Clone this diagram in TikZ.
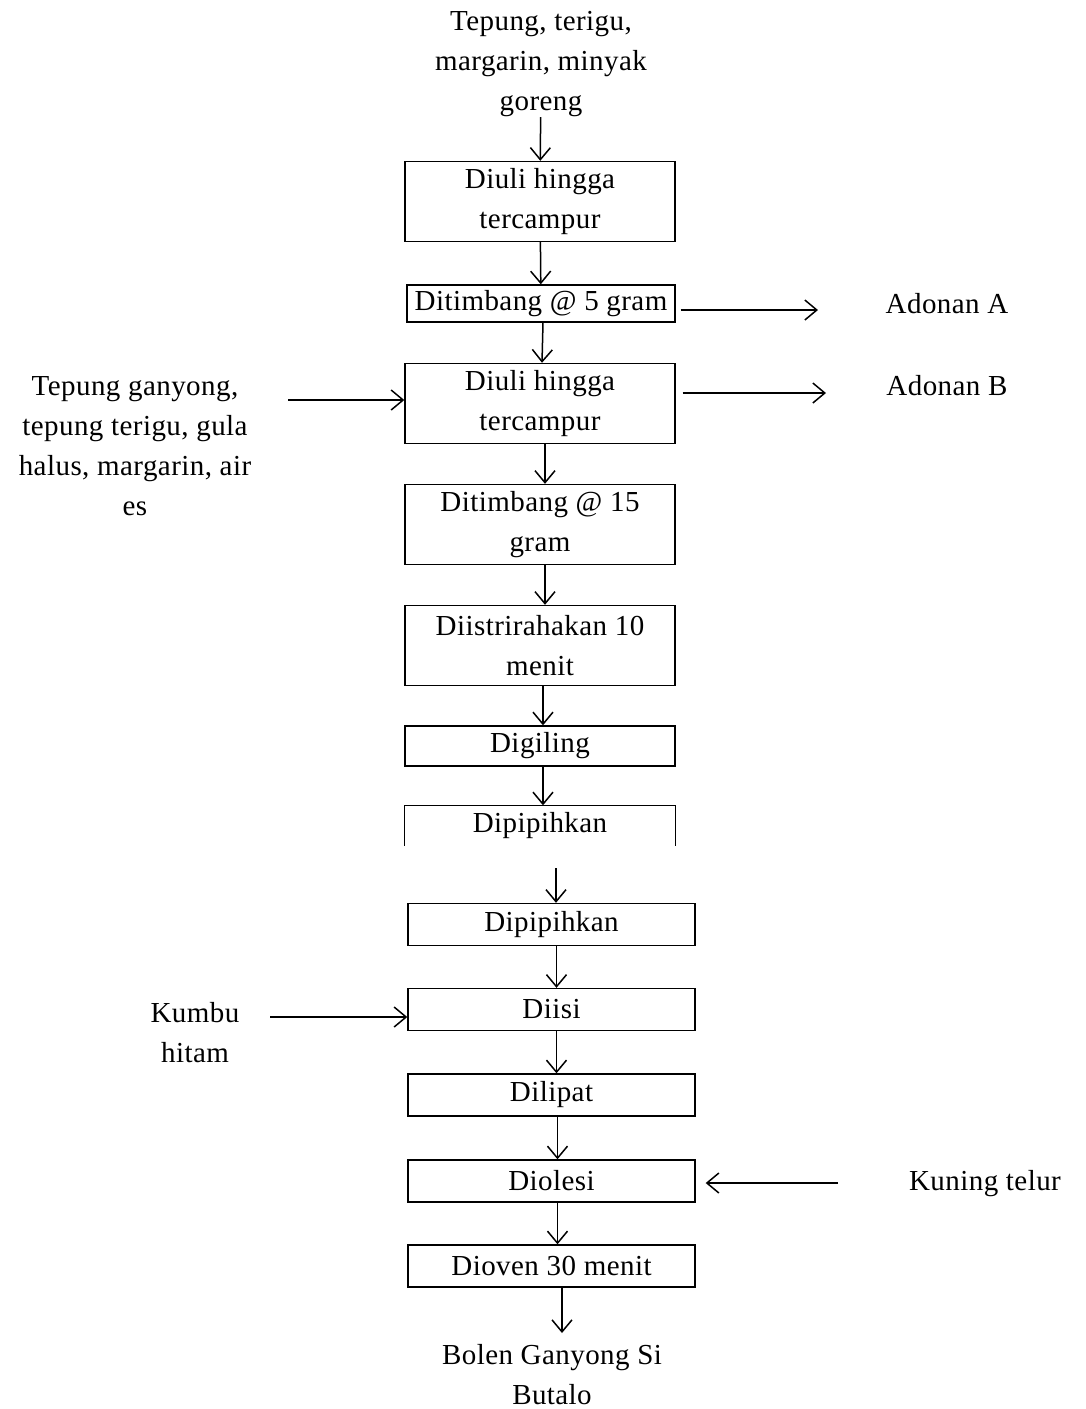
\documentclass[tikz,border=0pt]{standalone}
\usepackage{fontspec}
\setmainfont[LetterSpace=1.5]{Liberation Serif}
\usetikzlibrary{arrows.meta,positioning}
\tikzset
{
    stepbox/.style  = {rectangle, draw=black, align=center, inner sep=0pt, minimum width=135pt, minimum height=40pt, line width=0.7pt},
    stepboxb/.style = {stepbox, minimum width=143.5pt, minimum height=21pt},
    inputtext/.style = {align=center, inner sep=0pt},
    flow/.style     = {-{Straight Barb[length=6pt,width=10pt]}, line width=0.75pt}
}

\begin{document}
\begin{tikzpicture}[x=0.5pt, y=-0.5pt, every node/.style={font=\fontsize{14.5}{20}\selectfont}]
\useasboundingbox (0,0) rectangle (1086,1409);

% first page
\node (in0)[inputtext] 						at (541,64)     {Tepung, terigu,\\ margarin, minyak\\ goreng};
\node (a)[stepbox] 								at (540,201.5)  {Diuli hingga\\ tercampur};
\node (b)[stepbox, minimum width=134pt, minimum height=18.5pt] at (541,303.5) {Ditimbang @ 5 gram};
\node (c)[stepbox] 								at (540,403.5)  {Diuli hingga\\ tercampur};
\node (d)[stepbox] 								at (540,524.5)  {Ditimbang @ 15\\ gram};
\node (e)[stepbox] 								at (540,645.5)  {Diistrirahakan 10\\ menit};
\node (f)[stepbox, minimum height=20pt] 	at (540,746)    {Digiling};
\node (g)[stepbox, draw=none, minimum height=19.5pt] at (540,825.5) {Dipipihkan};
\draw[line width=0.7pt] (g.south west) -- (g.north west) -- (g.north east) -- (g.south east);

\node (in1)[inputtext] 						at (135,446)    {Tepung ganyong,\\ tepung terigu, gula\\ halus, margarin, air\\ es};
\node (oa)[inputtext] 						at (947,304)    {Adonan A};
\node (ob)[inputtext] 						at (947,386)    {Adonan B};
\coordinate (c1) 									at (288,400);
\coordinate (ca) 									at (818,310);
\coordinate (cb) 									at (826,393);

\draw[flow] (in0) 		-- (a);
\draw[flow] (a) 			-- (b);
\draw[flow] ([xshift=1pt]b.south) 		-- ([xshift=1pt]c.north);
\draw[flow] ([xshift=2.5pt]c.south) 	-- ([xshift=2.5pt]d.north);
\draw[flow] ([xshift=2.5pt]d.south) 	-- ([xshift=2.5pt]e.north);
\draw[flow] ([xshift=1.5pt]e.south) 	-- ([xshift=1.5pt]f.north);
\draw[flow] ([xshift=1.5pt]f.south) 	-- ([xshift=1.5pt]g.north);
\draw[flow] (c1) 			-- (c1 -| c.west);
\draw[flow, shorten <=2.5pt] (b.east |- ca) -- (ca);
\draw[flow, shorten <=3.5pt] (c.east |- cb) -- (cb);

% second page
\coordinate (h0) 									at (556,868);
\node (h)[stepboxb] 							at (551.5,924.5)  {Dipipihkan};
\node (i)[stepboxb] 							at (551.5,1009.5) {Diisi};
\node (j)[stepboxb] 							at (551.5,1095)   {Dilipat};
\node (k)[stepboxb] 							at (551.5,1181)   {Diolesi};
\node (l)[stepboxb] 							at (551.5,1266)   {Dioven 30 menit};
\node (out)[inputtext] 						at (552,1375)     {Bolen Ganyong Si\\ Butalo};

\node (in2)[inputtext] 						at (195,1033)     {Kumbu\\ hitam};
\node (in3)[inputtext] 						at (985,1184)     {Kuning telur};
\coordinate (c2) 									at (270,1017);
\coordinate (c3) 									at (838,1183);
\coordinate (cl) 									at (562,1288);
\coordinate (co) 									at (562,1333);

\draw[flow] (h0) 			-- (h0 |- h.north);
\draw[flow] ([xshift=2.5pt]h.south) 	-- ([xshift=2.5pt]i.north);
\draw[flow] ([xshift=2.5pt]i.south) 	-- ([xshift=2.5pt]j.north);
\draw[flow] ([xshift=3pt]j.south) 		-- ([xshift=3pt]k.north);
\draw[flow] ([xshift=3pt]k.south) 		-- ([xshift=3pt]l.north);
\draw[flow] (cl) 			-- (co);
\draw[flow] (c2) 			-- (c2 -| i.west);
\draw[flow, shorten >=5pt] (c3) -- (c3 -| k.east);

\end{tikzpicture}
\end{document}
